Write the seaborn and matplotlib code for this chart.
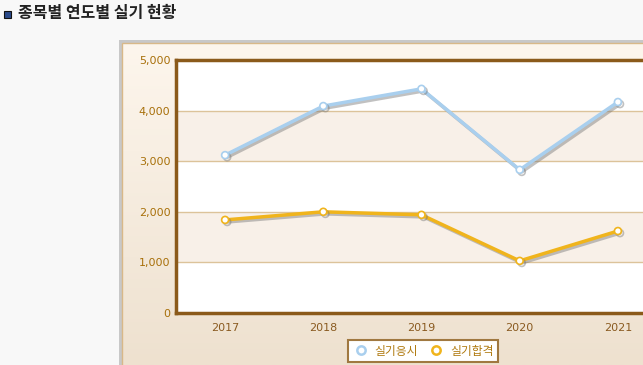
import numpy as np
import pandas as pd
import matplotlib
matplotlib.use("Agg")
import matplotlib.pyplot as plt
import matplotlib.patheffects as pe
from matplotlib.patches import Rectangle
from matplotlib.lines import Line2D
import seaborn as sns

sns.set_style("white")
plt.rcParams['font.family'] = ['Noto Sans CJK KR', 'DejaVu Sans']

years = ["2017", "2018", "2019", "2020", "2021"]
applied = [3120, 4090, 4430, 2830, 4170]   # 실기응시
passed = [1840, 2000, 1940, 1030, 1620]    # 실기합격
series = ["실기응시", "실기합격"]
colors = {"실기응시": "#A9CFEE", "실기합격": "#F0B41C"}
yticks = [0, 1000, 2000, 3000, 4000, 5000]

df = pd.DataFrame({
    "year": years * 2,
    "value": applied + passed,
    "series": [series[0]] * len(years) + [series[1]] * len(years),
})

W, H = 643, 365
fig = plt.figure(figsize=(W / 100, H / 100), dpi=100, facecolor="#F8F8F8")

# outer panel: grey frame + beige gradient
fig.patches.append(Rectangle((119 / W, 0), 1, (H - 40) / H, transform=fig.transFigure,
                             facecolor="#C8C8C8", edgecolor="none", zorder=0))
bg = fig.add_axes([122 / W, 0, 1 - 122 / W, (H - 43) / H])
bg.set_zorder(0.5)
grad = np.linspace(0, 1, 256).reshape(-1, 1)
top = np.array([253, 246, 237]) / 255
bot = np.array([238, 225, 207]) / 255
img = top + (bot - top) * grad[..., None]
bg.imshow(img, aspect="auto", extent=[0, 1, 0, 1])
bg.set_axis_off()
fig.patches.append(Rectangle((122.5 / W, -0.01), 1, (H - 43) / H + 0.01, transform=fig.transFigure,
                             facecolor="none", edgecolor="#D8B888", lw=1, zorder=1))

ax = fig.add_axes([176 / W, 52 / H, 491 / W, 253 / H])
ax.set_zorder(2)
ax.set_facecolor("white")
for lo in (1000, 3000):
    ax.axhspan(lo, lo + 1000, color="#F8F0E8", zorder=0, lw=0)
for y in yticks[1:-1]:
    ax.axhline(y, color="#DCC39A", lw=1, zorder=1)

sns.lineplot(data=df, x="year", y="value", hue="series", palette=colors, ax=ax,
             marker="o", markersize=5, markerfacecolor="white", markeredgewidth=1.2,
             linewidth=2.5, legend=False, zorder=3)
for ln, s in zip(ax.lines[-2:], series):
    ln.set_markeredgecolor(colors[s])
    ln.set_path_effects([pe.SimpleLineShadow(offset=(1.5, -1.5), shadow_color="#777777", alpha=0.45),
                         pe.Normal()])

ax.set_xlim(-0.5, 4.5)
ax.set_ylim(0, 5000)
ax.set_yticks(yticks)
ax.set_yticklabels([f"{v:,}" for v in yticks], color="#A8700A", fontsize=8, family="DejaVu Sans")
ax.tick_params(axis="x", colors="#8A5A20", labelsize=8, length=0, pad=7)
ax.tick_params(axis="y", length=0, pad=4)
for lab in ax.get_xticklabels():
    lab.set_family("DejaVu Sans")
ax.set_xlabel("")
ax.set_ylabel("")
for sp in ax.spines.values():
    sp.set_color("#8B5A1A")
    sp.set_linewidth(2.5)
    sp.set_visible(True)

handles = [Line2D([], [], linestyle="none", marker="o", markerfacecolor="white",
                  markeredgecolor=colors[s], markeredgewidth=1.8, markersize=6, label=s)
           for s in series]
leg = fig.legend(handles=handles, loc="center", bbox_to_anchor=(423 / W, 1 - 351 / H),
                 ncol=2, frameon=True, fontsize=8.5, handletextpad=0.5, columnspacing=0.8,
                 borderpad=0.4, handlelength=1.4, fancybox=False, framealpha=1)
leg.set_zorder(5)
leg.get_frame().set_edgecolor("#A07840")
leg.get_frame().set_linewidth(1.5)
for t in leg.get_texts():
    t.set_color("#B07A10")

# title with small icon
fig.patches.append(Rectangle((4 / W, 1 - 18 / H), 7 / W, 7 / H, transform=fig.transFigure,
                             facecolor="#2A4A8A", edgecolor="#111111", lw=0.8))
fig.text(18 / W, 1 - 13 / H, "종목별 연도별 실기 현황", fontsize=11.5, fontweight="bold",
         color="#222222", va="center", ha="left")

fig.savefig("out.png", dpi=100, facecolor=fig.get_facecolor())
